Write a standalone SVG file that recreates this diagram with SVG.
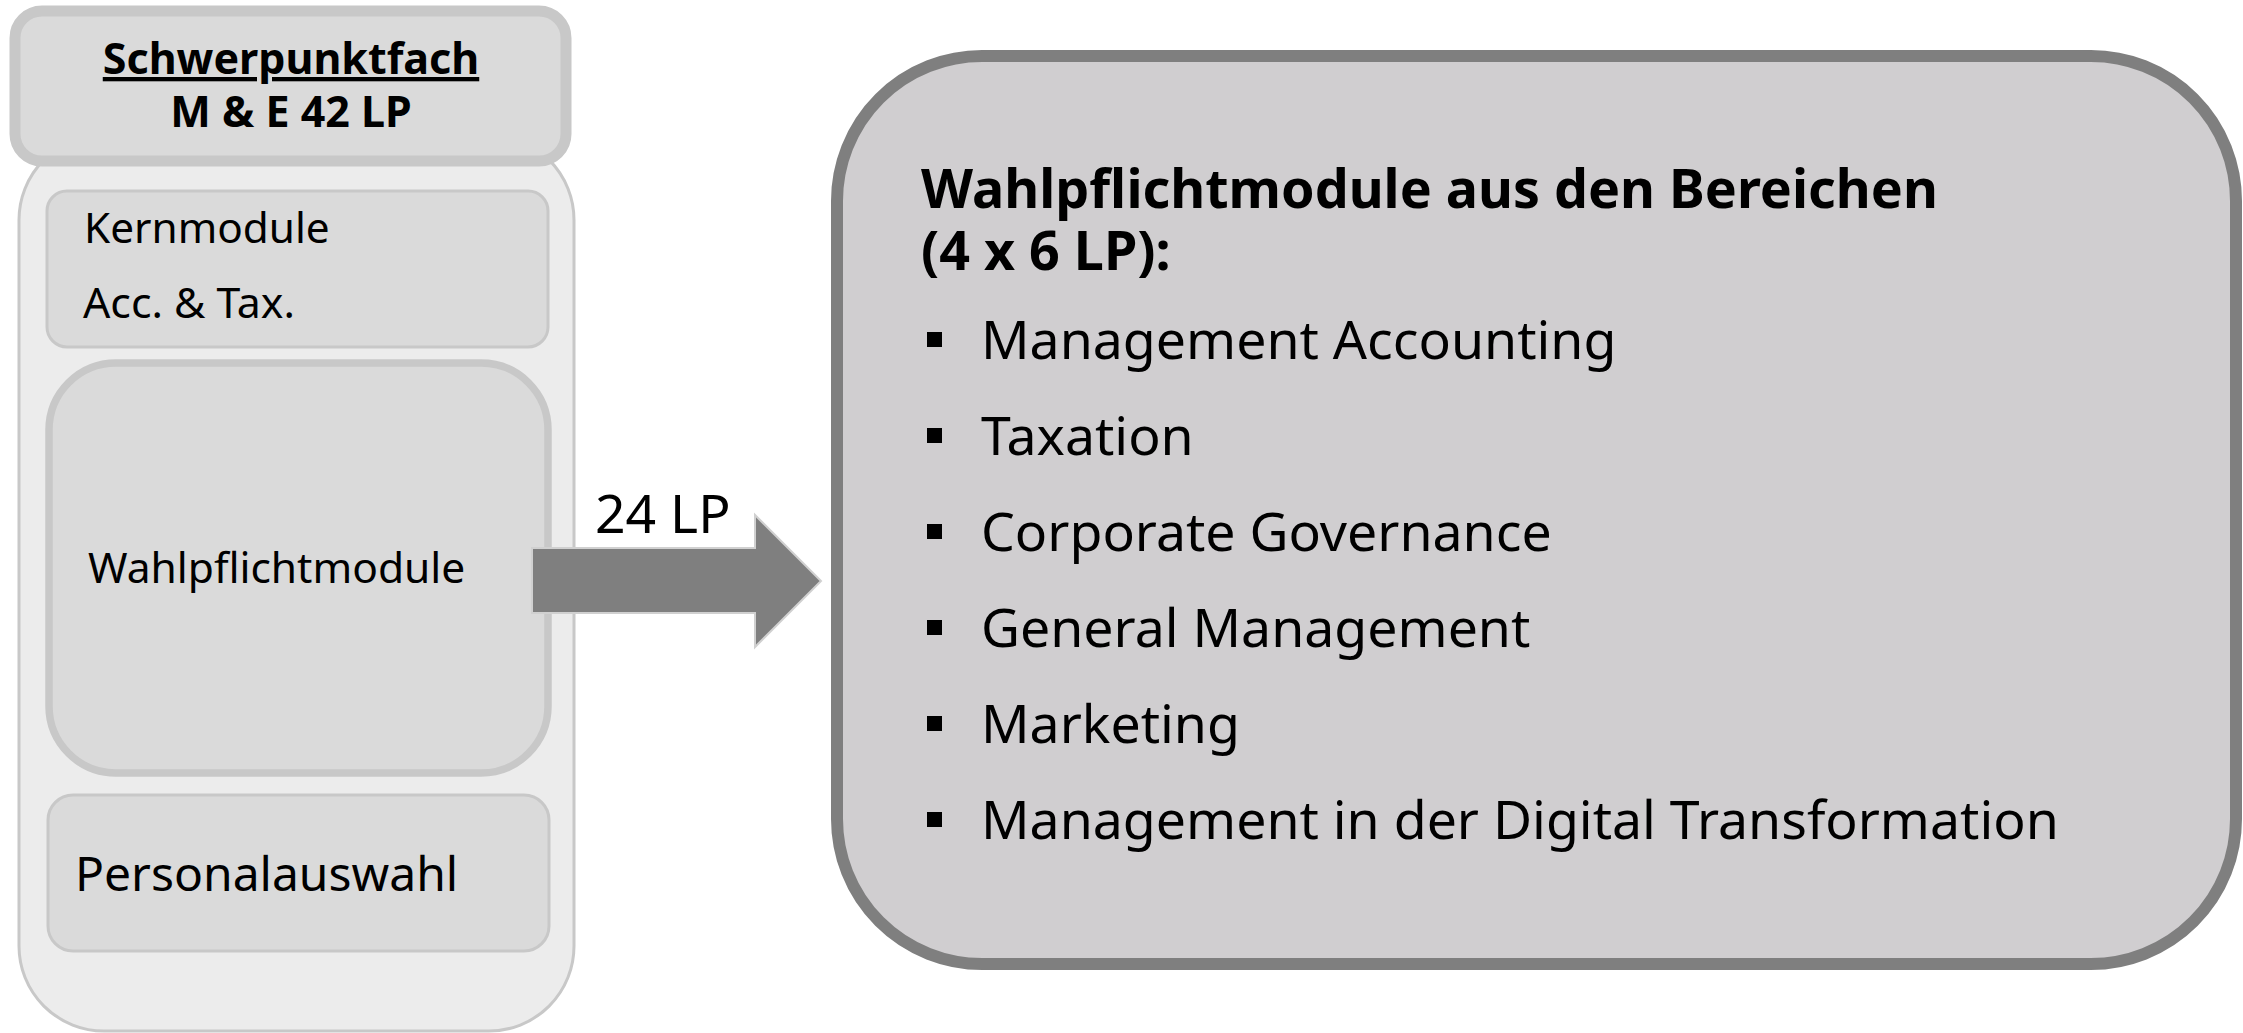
<svg xmlns="http://www.w3.org/2000/svg" width="2243" height="1033" viewBox="0 0 2243 1033">
<style>
text{font-family:"Noto Sans","Open Sans","Liberation Sans",sans-serif;fill:#000}
.b{font-weight:bold}
.box{fill:#dadada;stroke:#c8c8c8}
.bul{fill:#000}
.it{font-size:53.6px}
</style>
<rect width="2243" height="1033" fill="#ffffff"/>
<g id="container">
<rect x="19" y="135" width="555" height="896" rx="85" fill="#ececec" stroke="#c8c8c8" stroke-width="3"/>
</g>
<g id="header">
<rect class="box" x="15" y="11" width="551" height="150" rx="27" stroke-width="11"/>
<text class="b" x="291" y="74" font-size="43" text-anchor="middle" text-decoration="underline">Schwerpunktfach</text>
<text class="b" x="291" y="127" font-size="43" text-anchor="middle">M &amp; E 42 LP</text>
</g>
<g id="kernmodule">
<rect class="box" x="47" y="191" width="501" height="156" rx="20" stroke-width="3"/>
<text x="84" y="243" font-size="42.3">Kernmodule</text>
<text x="83" y="318" font-size="42.8">Acc. &amp; Tax.</text>
</g>
<g id="wahlpflichtmodule">
<rect class="box" x="49" y="363" width="499" height="410" rx="67" stroke-width="7.5"/>
<text x="88" y="583" font-size="42.5">Wahlpflichtmodule</text>
</g>
<g id="personalauswahl">
<rect class="box" x="48" y="795" width="501" height="156" rx="25" stroke-width="3"/>
<text x="75" y="891" font-size="48">Personalauswahl</text>
</g>
<g id="connectors">
<polygon points="532,548 755,548 755,515 821,581 755,647 755,613 532,613" fill="#7f7f7f" stroke="#d0d0d0" stroke-width="2"/>
<text x="595" y="533" font-size="53.5">24 LP</text>
</g>
<g id="bereiche">
<rect x="837" y="56" width="1399" height="908" rx="145" fill="#d0ced0" stroke="#7f7f7f" stroke-width="12"/>
<text class="b" x="921" y="208" font-size="53.8">Wahlpflichtmodule aus den Bereichen</text>
<text class="b" x="921" y="270" font-size="53.8">(4 x 6 LP):</text>
<rect class="bul" x="927" y="332" width="15" height="15"/>
<text class="it" x="981" y="359">Management Accounting</text>
<rect class="bul" x="927" y="428" width="15" height="15"/>
<text class="it" x="981" y="455">Taxation</text>
<rect class="bul" x="927" y="524" width="15" height="15"/>
<text class="it" x="981" y="551">Corporate Governance</text>
<rect class="bul" x="927" y="620" width="15" height="15"/>
<text class="it" x="981" y="647">General Management</text>
<rect class="bul" x="927" y="716" width="15" height="15"/>
<text class="it" x="981" y="743">Marketing</text>
<rect class="bul" x="927" y="812" width="15" height="15"/>
<text class="it" x="981" y="839">Management in der Digital Transformation</text>
</g>
</svg>
